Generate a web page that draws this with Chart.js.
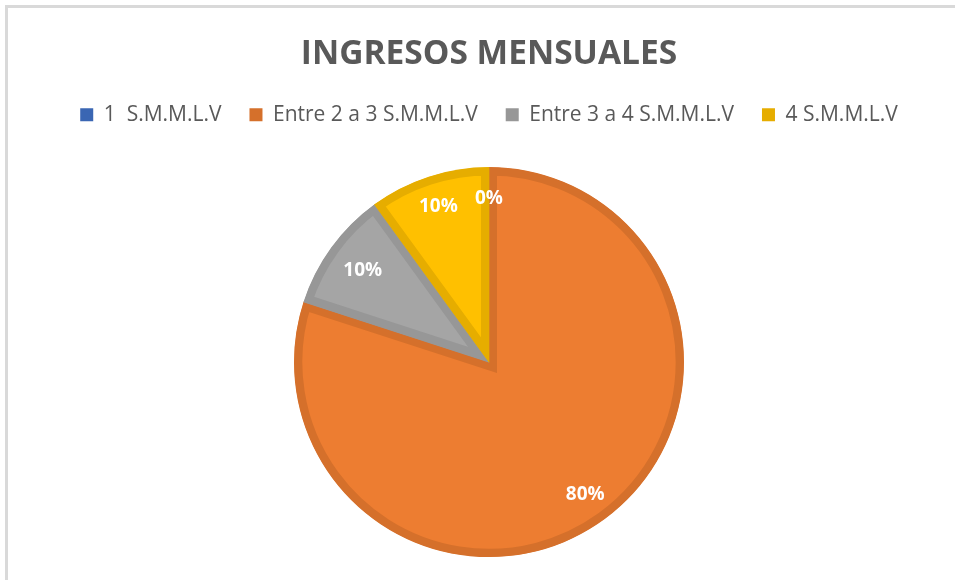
<!DOCTYPE html>
<html>
<head>
<meta charset="utf-8">
<script src="https://cdn.jsdelivr.net/npm/chart.js@4.4.1/dist/chart.umd.min.js"></script>
<style>
  html, body { margin: 0; padding: 0; background: #fff; overflow: hidden; width: 955px; height: 580px; }
  #frame { position: absolute; left: 5px; top: 5px; width: 968px; height: 600px; border: 3px solid #d9d9d9; box-sizing: border-box; background: #fff; }
  #wrap { position: absolute; left: 0; top: 0; width: 962px; height: 594px; }
</style>
</head>
<body>
<div id="frame"><div id="wrap"><canvas id="c"></canvas></div></div>
<script>
const titleText = 'INGRESOS MENSUALES';
const categories = ['1  S.M.M.L.V', 'Entre 2 a 3 S.M.M.L.V', 'Entre 3 a 4 S.M.M.L.V', '4 S.M.M.L.V'];
const values = [0, 80, 10, 10];
const fillColors = ['#4472C4', '#ED7D31', '#A5A5A5', '#FFC000'];
const borderColors = ['#3A66B3', '#D5702B', '#979797', '#E6AD00'];

const labelPlugin = {
  id: 'sliceLabels',
  afterDatasetsDraw(chart) {
    const ctx = chart.ctx;
    const meta = chart.getDatasetMeta(0);
    const data = chart.data.datasets[0].data;
    const total = data.reduce((a, b) => a + b, 0);
    ctx.save();
    ctx.font = 'bold 19px "Open Sans"';
    ctx.fillStyle = '#ffffff';
    ctx.textAlign = 'center';
    ctx.textBaseline = 'middle';
    meta.data.forEach((arc, i) => {
      const p = arc.getProps(['x', 'y', 'startAngle', 'endAngle', 'outerRadius'], true);
      const mid = (p.startAngle + p.endAngle) / 2;
      const r = p.outerRadius * (i === 2 ? 0.80 : 0.84);
      const pct = Math.round(data[i] / total * 100) + '%';
      ctx.fillText(pct, p.x + Math.cos(mid) * r, p.y + Math.sin(mid) * r);
    });
    ctx.restore();
  }
};

new Chart(document.getElementById('c'), {
  type: 'pie',
  data: {
    labels: categories,
    datasets: [{
      data: values,
      backgroundColor: fillColors,
      borderColor: borderColors,
      hoverBackgroundColor: fillColors,
      hoverBorderColor: borderColors,
      borderWidth: 8,
      hoverBorderWidth: 8,
      borderAlign: 'inner',
      borderJoinStyle: 'miter',
      radius: 195
    }]
  },
  options: {
    responsive: true,
    maintainAspectRatio: false,
    animation: false,
    events: [],
    layout: { padding: { top: 0, bottom: 13, left: 0, right: 0 } },
    plugins: {
      title: {
        display: true,
        text: titleText,
        color: '#595959',
        font: { family: '"Open Sans"', size: 33.5, weight: 'bold' },
        padding: { top: 26, bottom: 2 }
      },
      legend: {
        display: true,
        position: 'top',
        labels: {
          color: '#595959',
          font: { family: '"Open Sans"', size: 21 },
          boxWidth: 13,
          boxHeight: 13,
          padding: 28,
          generateLabels(chart) {
            return chart.data.labels.map((l, i) => ({
              text: l,
              fillStyle: borderColors[i],
              strokeStyle: borderColors[i],
              lineWidth: 0,
              fontColor: '#595959',
              hidden: false,
              index: i
            }));
          }
        }
      },
      tooltip: { enabled: false }
    }
  },
  plugins: [labelPlugin]
});
</script>
</body>
</html>
